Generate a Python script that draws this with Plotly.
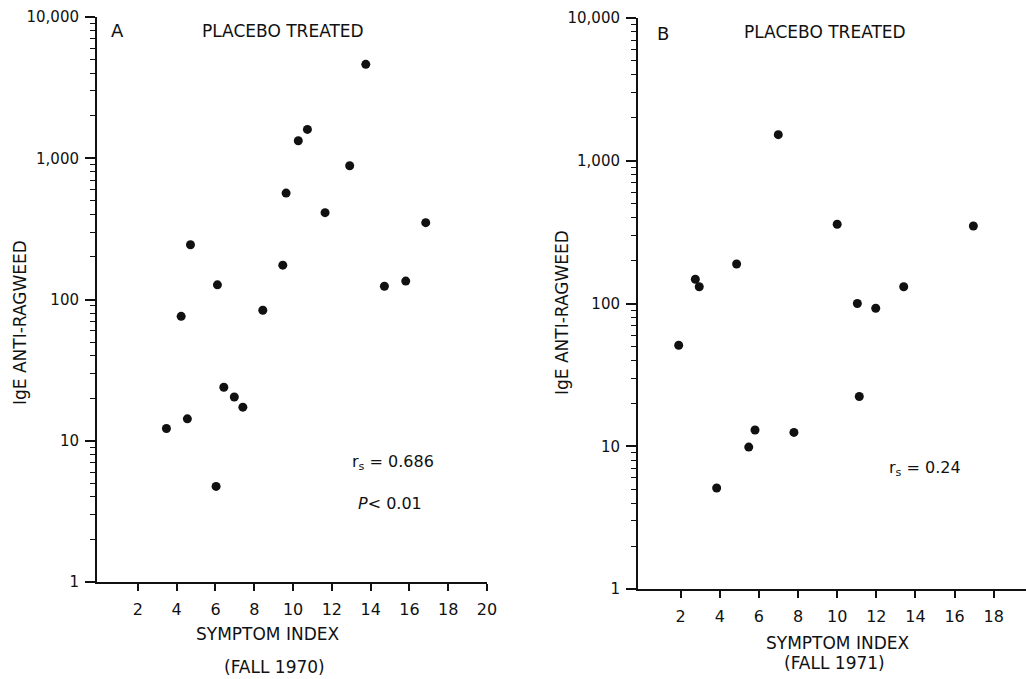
import plotly.graph_objects as go

# Panel A (Fall 1970)
a_symptom = [13.75, 10.74, 10.27, 12.92, 9.64, 11.65, 16.84, 4.71, 9.47, 15.81,
             6.10, 14.71, 8.44, 4.23, 6.43, 6.97, 7.41, 4.55, 3.47, 6.03]
a_ige = [4620, 1600, 1330, 885, 567, 412, 350, 244, 175, 135,
         127, 124, 84, 76, 23.9, 20.4, 17.3, 14.3, 12.2, 4.75]

# Panel B (Fall 1971)
b_symptom = [6.99, 10.0, 16.96, 4.86, 2.75, 2.95, 13.40, 11.03, 11.97,
             1.90, 11.13, 5.80, 7.79, 5.48, 3.84]
b_ige = [1523, 359, 349, 189, 148, 131, 131, 100, 92.6,
         51, 22.3, 13.0, 12.5, 9.86, 5.1]

x_ticks_a = [2, 4, 6, 8, 10, 12, 14, 16, 18, 20]
x_ticks_b = [2, 4, 6, 8, 10, 12, 14, 16, 18]
y_ticks = [1, 10, 100, 1000, 10000]
y_ticktext = ["1", "10", "100", "1,000", "10,000"]
y_minor = [m * 10 ** d for d in range(4) for m in range(2, 10)]

FONT = "DejaVu Sans"
BLACK = "#111111"

fig = go.Figure()
fig.add_trace(go.Scatter(x=a_symptom, y=a_ige, mode="markers",
                         marker=dict(size=9, color=BLACK), xaxis="x", yaxis="y",
                         showlegend=False))
fig.add_trace(go.Scatter(x=b_symptom, y=b_ige, mode="markers",
                         marker=dict(size=9, color=BLACK), xaxis="x2", yaxis="y2",
                         showlegend=False))

def xaxis_style(domain, rng, ticks, anchor):
    return dict(domain=domain, range=rng, anchor=anchor, tickmode="array",
                tickvals=ticks, ticktext=[str(t) for t in ticks],
                showline=True, linewidth=2, linecolor=BLACK, mirror=False,
                ticks="outside", ticklen=7, tickwidth=1.5, tickcolor=BLACK,
                showgrid=False, zeroline=False, automargin=False,
                tickfont=dict(family=FONT, size=16, color=BLACK),
                ticklabelstandoff=5)

def yaxis_style(domain, anchor):
    return dict(domain=domain, type="log", range=[0, 4], anchor=anchor,
                tickmode="array", tickvals=y_ticks, ticktext=y_ticktext,
                showline=True, linewidth=2, linecolor=BLACK,
                ticks="outside", ticklen=10, tickwidth=1.5, tickcolor=BLACK,
                minor=dict(tickmode="array", tickvals=y_minor, ticks="outside",
                           ticklen=5, tickwidth=1.2, tickcolor=BLACK, showgrid=False),
                showgrid=False, zeroline=False, automargin=False,
                tickfont=dict(family=FONT, size=15, color=BLACK),
                ticklabelstandoff=3)

fig.update_layout(
    width=1026, height=679,
    margin=dict(l=0, r=0, t=0, b=0, autoexpand=False),
    paper_bgcolor="white", plot_bgcolor="white",
    xaxis=xaxis_style([97 / 1026, 487 / 1026], [-0.11, 20], x_ticks_a, "y"),
    yaxis=yaxis_style([97 / 679, 662 / 679], "x"),
    xaxis2=xaxis_style([638 / 1026, 1.0], [-0.18, 19.65], x_ticks_b, "y2"),
    yaxis2=yaxis_style([90 / 679, 661 / 679], "x2"),
    font=dict(family=FONT, color=BLACK),
)

def ann(text, x, y, size=16, xanchor="center", angle=0):
    fig.add_annotation(text=text, x=x, y=y, xref="paper", yref="paper",
                       showarrow=False, xanchor=xanchor, yanchor="middle",
                       textangle=angle,
                       font=dict(family=FONT, size=size, color=BLACK))

# Panel A labels
ann("A", 117 / 1026, 1 - 31 / 679, size=18)
ann("PLACEBO TREATED", 283 / 1026, 1 - 31 / 679, size=17)
ann("r<sub>s</sub> = 0.686", 350 / 1026, 1 - 462 / 679, size=16, xanchor="left")
ann("<i>P</i>&lt; 0.01", 356 / 1026, 1 - 503 / 679, size=16, xanchor="left")
ann("IgE ANTI-RAGWEED", 20 / 1026, 1 - 323 / 679, size=17, angle=-90)
ann("SYMPTOM INDEX", 267 / 1026, 1 - 634 / 679, size=17)
ann("(FALL 1970)", 274 / 1026, 1 - 667 / 679, size=17)

# Panel B labels
ann("B", 663 / 1026, 1 - 33 / 679, size=18)
ann("PLACEBO TREATED", 825 / 1026, 1 - 32 / 679, size=17)
ann("r<sub>s</sub> = 0.24", 887 / 1026, 1 - 468 / 679, size=16, xanchor="left")
ann("IgE ANTI-RAGWEED", 562 / 1026, 1 - 313 / 679, size=17, angle=-90)
ann("SYMPTOM INDEX", 837 / 1026, 1 - 643 / 679, size=17)
ann("(FALL 1971)", 834 / 1026, 1 - 663 / 679, size=17)

fig.write_html("out.html",
               config={"displayModeBar": False},
               post_script="document.body.style.margin='0px';"
                           "document.body.style.overflow='hidden';")
